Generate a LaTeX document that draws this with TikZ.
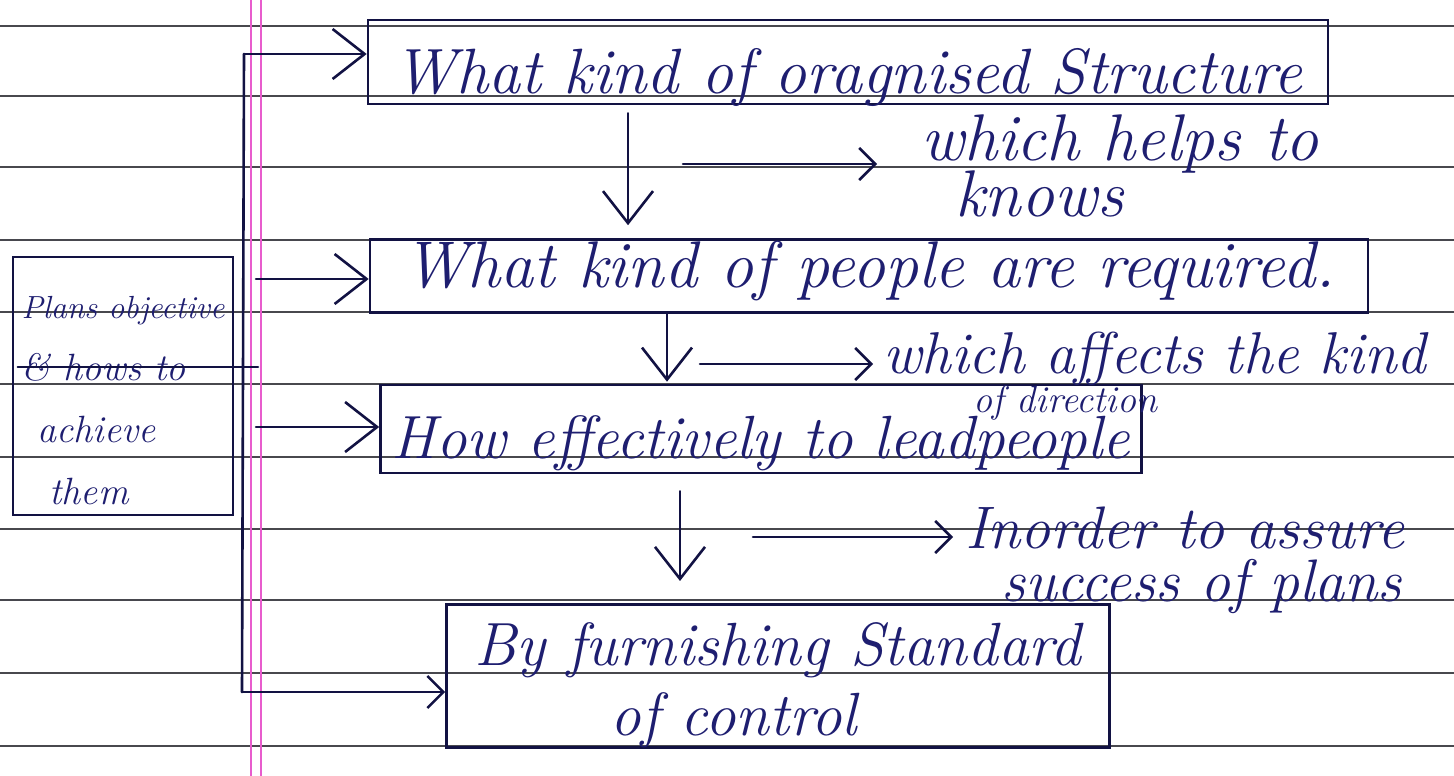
\documentclass[tikz,border=0pt]{standalone}
\usepackage{fontspec}
\usepackage{tikz}
\usetikzlibrary{positioning,shapes,arrows.meta}
\definecolor{ink}{RGB}{30,30,112}
\definecolor{ruling}{RGB}{72,72,78}
\definecolor{marginpink}{RGB}{232,92,205}
\tikzset{
  wire/.style={draw=ink!60!black, line width=2.6pt, line cap=round},
  feed/.style={wire, ->, >={Straight Barb[length=32pt,width=50pt]}},
  side/.style={wire, ->, >={Straight Barb[length=16pt,width=32pt]}},
  stepbox/.style={draw=ink!60!black, line width=2.6pt, inner sep=0pt, text=ink},
  note/.style={text=ink, align=left, inner sep=0pt, anchor=north west},
}
\newcommand{\hand}[1]{\fontsize{#1}{#1}\selectfont\itshape}

\begin{document}
\begin{tikzpicture}[x=1pt, y=-1pt]
      \useasboundingbox (0,0) rectangle (1454,776);
      \foreach \r in {26,96,167,240,312,384,457,529,600,673,746}
            \draw[ruling, line width=1.5pt] (0,\r) -- (1454,\r);
      \draw[marginpink, line width=1.3pt] (251,0) -- (251,776) (261,0) -- (261,776);

      \node[stepbox, font=\hand{64}, minimum width=960pt, minimum height=84pt, text height=62pt, text depth=0pt] (structure) at (848,62) {What kind of oragnised Structure};
      \node[stepbox, font=\hand{66}, minimum width=998pt, minimum height=73pt, text height=22pt, text depth=0pt] (people) at (869,276) {What kind of people are required.};
      \node[stepbox, font=\hand{61}, minimum width=761pt, minimum height=88pt, text height=58pt, text depth=0pt] (lead) at (761,429) {How effectively to leadpeople};
      \node[stepbox, font=\hand{61}, minimum width=663pt, minimum height=143pt, align=left] (furnish) at (778,676) {\rule{0pt}{61pt}By furnishing Standard\\[9pt]\hspace*{136pt}of control};
      \node[stepbox, font=\hand{38}, line width=2.4pt, minimum width=220pt, minimum height=258pt, align=left] (plans) at (123,386) {\rule{0pt}{52pt}{\hand{32}Plans objective}\\[24pt]\& hows to\\[24pt]\hspace*{16pt}achieve\\[24pt]\hspace*{28pt}them};

      \node[note, font=\hand{66}] (helps) at (921,114) {which helps to\\[-10pt]\hspace*{34pt}knows};
      \node[note, font=\hand{59}] (affects) at (883,332) {which affects the kind\\[-20pt]\hspace*{90pt}{\hand{38}of direction}};
      \node[note, font=\hand{60}] (assure) at (965,507) {Inorder to assure\\[-7pt]\hspace*{36pt}success of plans};

      \coordinate (ttop) at (244,54);
      \coordinate (tbot) at (242,692);
      \coordinate (t2) at (256,279);
      \coordinate (t3) at (256,427);
      \coordinate (join) at (258,367);
      \draw[wire] (ttop) -- (tbot);
      \draw[feed] (ttop) -- (ttop -| structure.west);
      \draw[feed] (t2) -- (t2 -| people.west);
      \draw[feed] (t3) -- (t3 -| lead.west);
      \draw[side] (tbot) -- (tbot -| furnish.west);
      \draw[wire, shorten <=6pt] (plans.west |- join) -- (join);

      \coordinate (c1) at (628,0);
      \coordinate (c2) at (667,0);
      \coordinate (c3) at (680,0);
      \draw[feed, shorten <=8pt, shorten >=13pt] (structure.south -| c1) -- (people.north -| c1);
      \draw[feed, shorten >=2pt] (people.south -| c2) -- (lead.north -| c2);
      \draw[feed, shorten <=17pt, shorten >=22pt] (lead.south -| c3) -- (furnish.north -| c3);

      \coordinate (s1) at (683,164);
      \coordinate (s2) at (700,364);
      \coordinate (s3) at (753,537);
      \draw[side, shorten >=44pt] (s1) -- (s1 -| helps.west);
      \draw[side, shorten >=10pt] (s2) -- (s2 -| affects.west);
      \draw[side, shorten >=12pt] (s3) -- (s3 -| assure.west);
\end{tikzpicture}
\end{document}
